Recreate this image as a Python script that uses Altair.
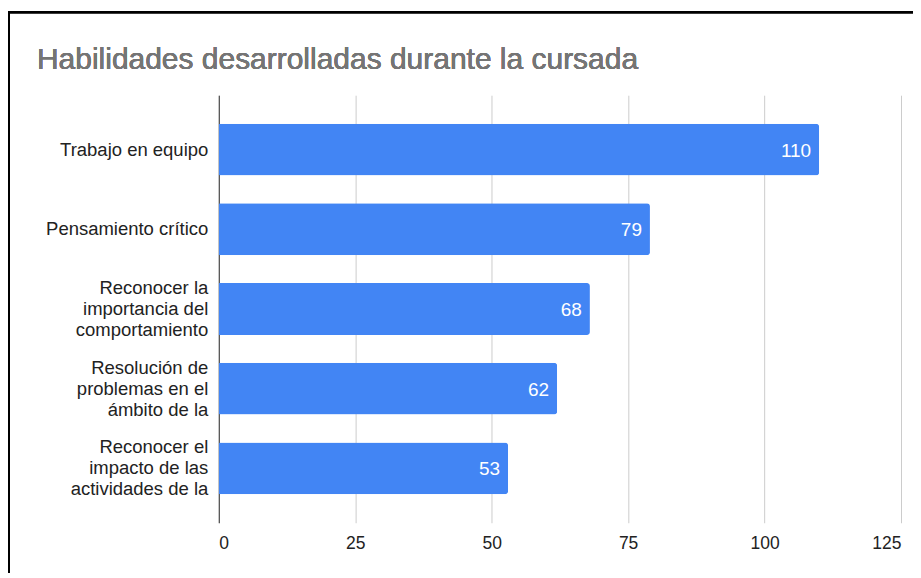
import altair as alt
import pandas as pd

title_text = "Habilidades desarrolladas durante la cursada"
categories = [
    "Trabajo en equipo",
    "Pensamiento crítico",
    "Reconocer la|importancia del|comportamiento",
    "Resolución de|problemas en el|ámbito de la",
    "Reconocer el|impacto de las|actividades de la",
]
values = [110, 79, 68, 62, 53]
x_ticks = [0, 25, 50, 75, 100, 125]

df = pd.DataFrame({"cat": categories, "val": values})

W, H = 683, 428
FONT = "Liberation Sans"

y_enc = alt.Y(
    "cat:N",
    sort=categories,
    title=None,
    scale=alt.Scale(paddingInner=0.35, paddingOuter=0.357),
    axis=alt.Axis(
        labelExpr="split(datum.label, '|')",
        labelFont=FONT,
        labelFontSize=18.5,
        labelColor="#222222",
        labelLineHeight=21,
        labelPadding=11,
        labelOffset={"condition": {"test": "indexof(datum.value, '|') >= 0", "value": -21}, "value": 0},
        ticks=False,
        domain=True,
        domainColor="#333333",
        domainWidth=1,
        grid=False,
        labelLimit=300,
    ),
)
x_enc = alt.X(
    "val:Q",
    title=None,
    scale=alt.Scale(domain=[0, 125], nice=False),
    axis=alt.Axis(
        values=x_ticks,
        labelFont=FONT,
        labelFontSize=17.5,
        labelColor="#222222",
        labelPadding=12,
        ticks=False,
        domain=False,
        grid=True,
        gridColor="#cccccc",
        gridWidth=1,
    ),
)

bars = alt.Chart(df).mark_bar(
    color="#4285F4", cornerRadiusTopRight=3, cornerRadiusBottomRight=3
).encode(x=x_enc, y=y_enc)

labels = alt.Chart(df).mark_text(
    align="right", baseline="middle", dx=-8, dy=1, color="white",
    font=FONT, fontSize=19
).encode(
    x=alt.X("val:Q"),
    y=alt.Y("cat:N", sort=categories),
    text=alt.Text("val:Q"),
)

title = alt.Chart(df).mark_text(
    align="left", baseline="alphabetic", font=FONT, fontSize=30,
    color="#757575"
).encode(
    x=alt.value(-182), y=alt.value(-26), text=alt.value(title_text)
)

frame_v = alt.Chart(df).mark_rule(color="black", strokeWidth=2).encode(
    x=alt.value(-210), y=alt.value(-83), y2=alt.value(H + 80)
)
frame_h = alt.Chart(df).mark_rule(color="black", strokeWidth=2).encode(
    x=alt.value(-211), x2=alt.value(W + 40), y=alt.value(-83)
)

chart = alt.layer(bars, labels, title, frame_v, frame_h).properties(
    width=W,
    height=H,
    autosize=alt.AutoSizeParams(type="none"),
    padding={"left": 211, "top": 87, "right": 12, "bottom": 50},
).configure_view(stroke=None)

chart.save("out.html", embed_options={"renderer": "svg", "actions": False})
